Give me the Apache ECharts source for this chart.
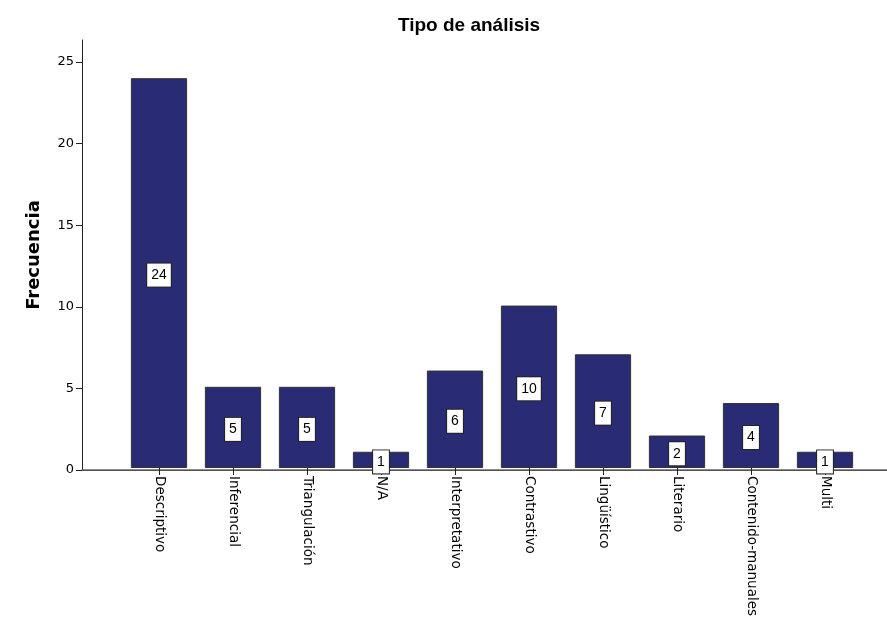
<!DOCTYPE html>
<html><head><meta charset="utf-8">
<script src="https://cdn.jsdelivr.net/npm/echarts@6/dist/echarts.min.js"></script>
<style>html,body{margin:0;padding:0;background:#fff}#c{width:887px;height:619px}</style>
</head><body><div id="c"></div>
<script>
const categories = ['Descriptivo','Inferencial','Triangulación','N/A','Interpretativo','Contrastivo','Lingüístico','Literario','Contenido-manuales','Multi'];
const frecuencia = [24,5,5,1,6,10,7,2,4,1];
const yTicks = [0,5,10,15,20,25];
const yMax = 26.35;
const font = 'Arial, "Liberation Sans", sans-serif';
const wide = '"DejaVu Sans", sans-serif';

const chart = echarts.init(document.getElementById('c'), null, {renderer:'canvas'});
chart.setOption({
  animation:false,
  backgroundColor:'#fff',
  title:{text:'Tipo de análisis', left:464, top:11, textAlign:'center',
    textStyle:{fontFamily:font, fontSize:19, fontWeight:'bold', color:'#000'}},
  grid:[
    {left:82, right:0, top:40, bottom:149, containLabel:false},
    {left:122, right:25, top:40, bottom:149, containLabel:false}
  ],
  xAxis:[
    {gridIndex:0, type:'value', min:0, max:1, position:'bottom',
      axisLine:{show:true, onZero:false, lineStyle:{color:'#222', width:1}},
      axisTick:{show:false}, axisLabel:{show:false}, splitLine:{show:false}},
    {gridIndex:0, type:'value', min:0, max:1, position:'top',
      axisLine:{show:true, lineStyle:{color:'#666', width:1.5}},
      axisTick:{show:false}, axisLabel:{show:false}, splitLine:{show:false}},
    {gridIndex:1, type:'category', data:categories, position:'bottom',
      axisLine:{show:false},
      axisTick:{show:true, alignWithLabel:true, length:7, inside:false, lineStyle:{color:'#222'}},
      axisLabel:{rotate:-90, interval:0, margin:8, color:'#000', fontFamily:wide, fontSize:13.5}}
  ],
  yAxis:[
    {gridIndex:0, type:'value', min:0, max:yMax,
      name:'Frecuencia', nameLocation:'middle', nameGap:39, nameRotate:90,
      nameTextStyle:{fontFamily:wide, fontSize:18, fontWeight:'bold', color:'#000'},
      axisLine:{show:true, lineStyle:{color:'#222', width:1}},
      axisTick:{show:true, length:6, customValues:yTicks, lineStyle:{color:'#222'}},
      axisLabel:{color:'#000', fontFamily:wide, fontSize:13, margin:8, customValues:yTicks},
      splitLine:{show:false}},
    {gridIndex:1, type:'value', min:0, max:yMax, show:false}
  ],
  series:[{
    type:'bar', xAxisIndex:2, yAxisIndex:1, data:frecuencia, barWidth:'76%',
    itemStyle:{color:'#292b74', borderColor:'#333', borderWidth:1},
    label:{show:true, position:'inside', color:'#000', fontFamily:font, fontSize:14,
      backgroundColor:'#fff', borderColor:'#222', borderWidth:1, padding:[5,4,4,4], offset:[0,2]}
  }]
});
</script></body></html>
